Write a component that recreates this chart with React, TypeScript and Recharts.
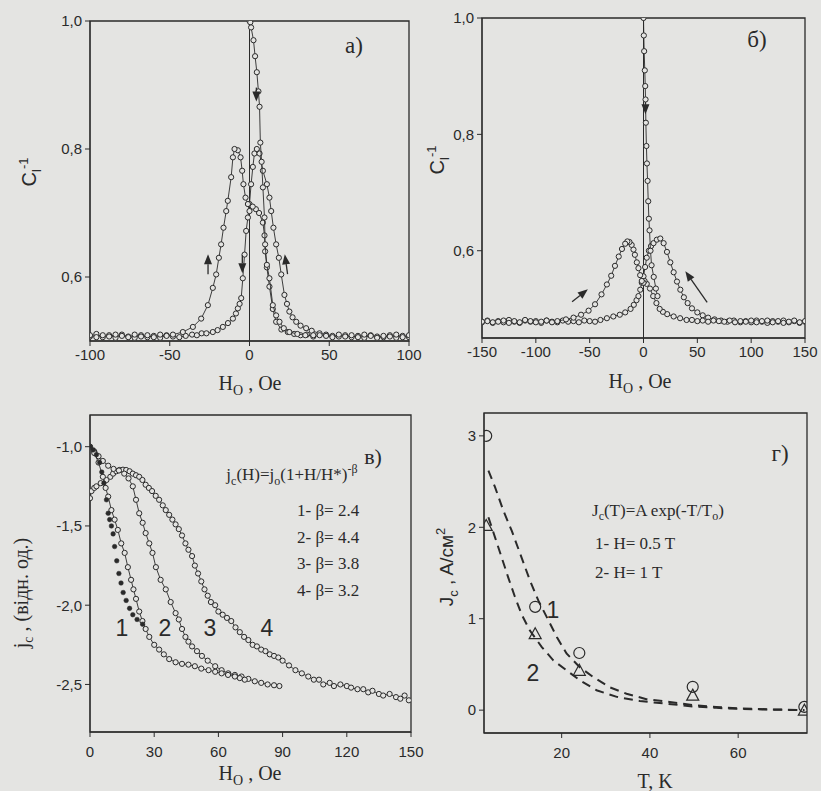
import React from 'react';
import { ComposedChart, Scatter, XAxis, YAxis, ReferenceArea, ReferenceLine, ReferenceDot } from 'recharts';

const ink = '#2a2a2a';
const bg = '#e4e4e2';
const serif = '"Liberation Serif","Times New Roman",serif';
const sans = '"Liberation Sans",Arial,sans-serif';

// ---------- panel а) ----------
const aXTicks = [-100, -50, 0, 50, 100];
const aYTicks = [0.6, 0.8, 1.0];
const aVirgin = [[0,1.0],[0.5,0.998],[1,0.99],[2.5,0.97],[3.5,0.945],[4.6,0.92],[5.6,0.89],[6.3,0.866],[6.8,0.81],[7.6,0.78],[8.4,0.74],[9.4,0.693],[9.8,0.651],[10.9,0.619],[12.5,0.598],[14.6,0.556],[16.7,0.54],[18.8,0.53],[21.5,0.52],[25,0.514],[30,0.511],[35,0.509],[40,0.509]];
const aUp = [[-100,0.507],[-96,0.511],[-92,0.506],[-88,0.509],[-84,0.505],[-80,0.51],[-76,0.507],[-72,0.505],[-68,0.509],[-64,0.506],[-60,0.508],[-56,0.505],[-52,0.509],[-48,0.507],[-44,0.506],[-40,0.508],[-36,0.51],[-33,0.509],[-30,0.512],[-27,0.512],[-23,0.514],[-20,0.517],[-16.7,0.522],[-13.5,0.528],[-10.4,0.535],[-8.5,0.543],[-7.3,0.551],[-6.2,0.558],[-5.2,0.567],[-4.2,0.598],[-3.1,0.635],[-2.1,0.672],[-1,0.693],[0,0.714],[1,0.745],[2.1,0.772],[3.1,0.793],[4.6,0.8],[6.3,0.793],[8.4,0.766],[10.9,0.745],[12.5,0.724],[13.6,0.703],[15,0.677],[16.7,0.651],[18.4,0.63],[19.9,0.604],[21.9,0.572],[23.5,0.558],[25,0.546],[27,0.537],[29.3,0.53],[32,0.524],[35.5,0.52],[39,0.516],[43.9,0.512],[48,0.51],[52,0.508],[56,0.507],[60,0.509],[64,0.506],[68,0.508],[72,0.505],[76,0.509],[80,0.507],[84,0.506],[88,0.509],[92,0.505],[96,0.508],[100,0.506]];
const aDown = [[100,0.509],[96,0.506],[92,0.51],[88,0.507],[84,0.508],[80,0.505],[76,0.508],[72,0.51],[68,0.506],[64,0.509],[60,0.507],[56,0.51],[52,0.506],[48,0.508],[44,0.509],[40,0.507],[36,0.51],[32,0.509],[28,0.511],[24,0.514],[20,0.518],[16.7,0.53],[14.6,0.55],[12.5,0.585],[10.9,0.615],[9.8,0.64],[9.4,0.665],[8.4,0.685],[6,0.7],[4,0.706],[2,0.71],[0,0.703],[-1,0.714],[-2.5,0.724],[-3.8,0.745],[-4.6,0.766],[-5.6,0.787],[-7.3,0.798],[-9.4,0.8],[-10.4,0.787],[-11.5,0.756],[-13.6,0.719],[-14.6,0.703],[-16.3,0.677],[-17.8,0.651],[-19.2,0.63],[-20.9,0.604],[-23,0.583],[-26.1,0.556],[-30.3,0.535],[-35.5,0.522],[-41.8,0.514],[-48,0.51],[-52,0.508],[-56,0.51],[-60,0.506],[-64,0.509],[-68,0.507],[-72,0.51],[-76,0.506],[-80,0.508],[-84,0.51],[-88,0.507],[-92,0.509],[-96,0.506],[-100,0.509]];

// ---------- panel б) ----------
const bXTicks = [-150, -100, -50, 0, 50, 100, 150];
const bYTicks = [0.6, 0.8, 1.0];
const bVirgin = [[0,1.0],[0.3,0.97],[0.6,0.943],[1.2,0.91],[1.6,0.883],[1.9,0.86],[2.2,0.82],[2.7,0.78],[3.2,0.75],[3.8,0.72],[4.4,0.685],[5,0.655],[5.6,0.635],[6.5,0.6],[7.5,0.575],[9.5,0.555],[11.5,0.535],[13,0.522]];
const bUp = [[-150,0.477],[-145,0.48],[-140,0.476],[-135,0.479],[-130,0.477],[-125,0.481],[-120,0.478],[-115,0.476],[-110,0.48],[-105,0.478],[-100,0.479],[-95,0.476],[-90,0.48],[-85,0.478],[-80,0.477],[-75,0.48],[-70,0.478],[-65,0.479],[-60,0.477],[-55,0.48],[-50,0.479],[-45,0.478],[-40,0.481],[-34,0.484],[-28,0.487],[-22,0.49],[-17,0.494],[-12,0.5],[-9,0.507],[-6.5,0.515],[-4.7,0.522],[-3,0.533],[-1.6,0.545],[0,0.556],[1.5,0.572],[3,0.588],[5,0.6],[7,0.608],[9.3,0.613],[12.4,0.619],[15.6,0.621],[18.7,0.613],[21.8,0.598],[24.9,0.58],[28,0.563],[31.1,0.547],[34.2,0.533],[37.5,0.52],[41,0.51],[45,0.501],[50,0.494],[55,0.489],[60,0.485],[66,0.482],[72,0.48],[78,0.478],[84,0.48],[90,0.477],[95,0.479],[100,0.477],[105,0.48],[110,0.478],[115,0.476],[120,0.479],[125,0.478],[130,0.48],[135,0.477],[140,0.479],[145,0.476],[150,0.478]];
const bDown = [[150,0.479],[145,0.477],[140,0.48],[135,0.478],[130,0.476],[125,0.479],[120,0.477],[115,0.48],[110,0.479],[105,0.477],[100,0.48],[95,0.478],[90,0.479],[85,0.477],[80,0.48],[75,0.478],[70,0.479],[65,0.48],[60,0.478],[55,0.48],[50,0.479],[45,0.481],[40,0.481],[34,0.484],[28,0.487],[22,0.491],[18,0.495],[15,0.5],[12,0.51],[9,0.522],[6,0.535],[3,0.543],[1,0.548],[0,0.545],[-1.6,0.548],[-3.1,0.558],[-4.7,0.57],[-6.2,0.58],[-8,0.593],[-9.3,0.602],[-11,0.61],[-13,0.615],[-15,0.616],[-17,0.612],[-20,0.603],[-23,0.59],[-26.5,0.574],[-30,0.557],[-34,0.542],[-39,0.525],[-45,0.508],[-51,0.497],[-58,0.49],[-65,0.485],[-72,0.482],[-80,0.479],[-85,0.477],[-90,0.48],[-95,0.478],[-100,0.477],[-105,0.479],[-110,0.481],[-115,0.477],[-120,0.479],[-125,0.476],[-130,0.48],[-135,0.478],[-140,0.477],[-145,0.479],[-150,0.478]];

// ---------- panel в) ----------
const cXTicks = [0, 30, 60, 90, 120, 150];
const cYTicks = [-2.5, -2.0, -1.5, -1.0];
const cCurve1 = [[0,-1.0],[1.5,-1.02],[3,-1.05],[4.5,-1.1],[5.5,-1.16],[6.5,-1.23],[7.7,-1.335],[8.5,-1.42],[9.2,-1.46],[10,-1.5],[10.8,-1.55],[11.5,-1.63],[12.5,-1.72],[13.5,-1.8],[14.5,-1.86],[15.5,-1.92],[16.9,-1.97],[18.5,-2.02],[20,-2.06],[22,-2.09],[24.6,-2.12]];
const cCurve2 = [[0,-1.0],[2,-1.04],[4,-1.1],[6,-1.19],[7.3,-1.26],[8.5,-1.315],[10,-1.4],[11.5,-1.46],[13,-1.525],[14.6,-1.61],[16.2,-1.67],[17.7,-1.76],[19.2,-1.84],[20.3,-1.9],[21.5,-1.96],[23,-2.04],[24.5,-2.1],[26,-2.15],[27.7,-2.2],[30,-2.25],[32.3,-2.28],[34.5,-2.31],[37,-2.34],[40,-2.36],[43,-2.37],[46,-2.375],[49,-2.385],[52,-2.4],[55.4,-2.41],[58.5,-2.42],[61.5,-2.43],[64.5,-2.44],[67.7,-2.45],[70,-2.46],[72.3,-2.47]];
const cCurve3 = [[0,-1.0],[2,-1.03],[4,-1.06],[6,-1.09],[8.5,-1.12],[11,-1.14],[13.5,-1.15],[16,-1.17],[18,-1.2],[20,-1.25],[21.5,-1.335],[23,-1.42],[24.6,-1.48],[26,-1.545],[27.7,-1.61],[29.2,-1.67],[30.8,-1.76],[33,-1.84],[35.4,-1.9],[37.7,-1.98],[40,-2.05],[41.5,-2.09],[43,-2.15],[44.6,-2.2],[46,-2.23],[47.7,-2.26],[50,-2.29],[52.3,-2.32],[55,-2.35],[58.5,-2.385],[61.5,-2.41],[64.6,-2.43],[67.7,-2.44],[70.8,-2.45],[74,-2.465],[77,-2.48],[80,-2.49],[83,-2.5],[86,-2.505],[88.5,-2.51]];
const cCurve4 = [[0,-1.325],[0.7,-1.28],[2,-1.26],[3,-1.25],[5,-1.23],[7.7,-1.21],[9.5,-1.19],[10.8,-1.17],[12.3,-1.155],[13.8,-1.147],[15.4,-1.145],[16.9,-1.147],[18.5,-1.155],[20,-1.17],[21.5,-1.18],[23,-1.19],[24.5,-1.21],[26,-1.24],[27.5,-1.26],[29,-1.28],[30.7,-1.31],[32.3,-1.335],[34,-1.37],[35.4,-1.4],[37,-1.43],[38.5,-1.46],[40,-1.49],[41.5,-1.52],[43,-1.56],[44.6,-1.61],[46,-1.65],[47.7,-1.69],[49,-1.75],[50.5,-1.8],[52,-1.85],[53.5,-1.9],[55,-1.94],[56.5,-1.98],[58.5,-2.0],[60,-2.04],[62,-2.06],[64,-2.08],[66,-2.1],[68,-2.14],[70,-2.17],[72,-2.2],[74,-2.22],[76,-2.25],[78,-2.26],[80,-2.28],[82,-2.29],[84,-2.31],[86,-2.32],[88,-2.33],[90,-2.35],[93,-2.38],[96,-2.41],[99,-2.43],[102,-2.45],[104.6,-2.47],[107,-2.47],[109,-2.5],[112,-2.49],[114,-2.51],[117,-2.5],[120,-2.51],[122,-2.52],[125,-2.53],[127.7,-2.53],[130,-2.55],[132,-2.54],[135,-2.56],[137,-2.57],[140,-2.56],[143,-2.58],[145,-2.59],[147,-2.57],[149,-2.6]];

// ---------- panel г) ----------
const dXTicks = [20, 40, 60];
const dYTicks = [0, 1, 2, 3];
const dPoints1 = [[2.9,3.0],[14,1.13],[24,0.625],[49.7,0.255],[75,0.036]];
const dPoints2 = [[2.9,2.02],[14,0.836],[24,0.436],[49.7,0.164],[75,0.0]];
const dFit1 = [[3.4,2.62],[4.9,2.44],[6.8,2.18],[8.7,1.96],[10.6,1.71],[12.8,1.42],[14.7,1.2],[16.6,1.02],[18.9,0.8],[21.1,0.62],[24.1,0.47],[27.2,0.36],[30.9,0.25],[34.7,0.18],[39.2,0.12],[44.5,0.09],[49.8,0.055],[55,0.035],[61,0.018],[68,0.008],[75,0.0]];
const dFit2 = [[3.4,2.11],[4.9,1.89],[6.4,1.67],[7.9,1.45],[9.4,1.24],[10.9,1.05],[12.8,0.87],[15.5,0.69],[18.1,0.545],[21.1,0.436],[24.1,0.327],[27.9,0.218],[32.5,0.145],[37.7,0.1],[43.8,0.07],[49.8,0.04],[55,0.025],[61,0.012],[68,0.005],[75,0.0]];

const pts = (a: number[][]) => a.map(([x, y]) => ({ x, y }));
const comma = (v: number) => v.toFixed(1).replace('.', ',');

const OpenCircle = (p: any) => (p.cx == null ? <g /> : <circle cx={p.cx} cy={p.cy} r={2.6} fill={bg} stroke={ink} strokeWidth={1} />);
const BigCircle = (p: any) => (p.cx == null ? <g /> : <circle cx={p.cx} cy={p.cy} r={5.5} fill="none" stroke={ink} strokeWidth={1.2} />);
const FilledDot = (p: any) => (p.cx == null ? <g /> : <circle cx={p.cx} cy={p.cy} r={2.3} fill={ink} stroke={ink} strokeWidth={0.5} />);
const BigTriangle = (p: any) => (p.cx == null ? <g /> : <path d={`M${p.cx},${p.cy - 6} L${p.cx + 6},${p.cy + 5} L${p.cx - 6},${p.cy + 5} Z`} fill="none" stroke={ink} strokeWidth={1.2} />);
const NoMark = () => <g />;

const makeArrow = (angle: number, len: number) => (p: any) => {
  if (p.cx == null) return <g />;
  const a = (angle * Math.PI) / 180;
  const dx = Math.cos(a), dy = Math.sin(a);
  const tx = p.cx + (dx * len) / 2, ty = p.cy + (dy * len) / 2;
  const sx = p.cx - (dx * len) / 2, sy = p.cy - (dy * len) / 2;
  const hx = tx - dx * 10, hy = ty - dy * 10;
  const nx = -dy * 4, ny = dx * 4;
  return (
    <g>
      <line x1={sx} y1={sy} x2={hx} y2={hy} stroke={ink} strokeWidth={1.3} />
      <path d={`M${tx},${ty} L${hx + nx},${hy + ny} L${hx - nx},${hy - ny} Z`} fill={ink} />
    </g>
  );
};

const tickStyle = { fill: ink, fontSize: 15, fontFamily: sans };

type Series = { data: number[][]; shape: any; line?: any };

function chart(o: {
  w: number; h: number; xd: [number, number]; yd: [number, number]; xt: number[]; yt: number[];
  fy?: (v: number) => string; tm: number; series: Series[]; zeroLine?: boolean; arrows?: [number, number, number, number][];
}) {
  return (
    <ComposedChart width={o.w} height={o.h} margin={{ top: 12, right: 20, bottom: 0, left: 0 }}>
      <XAxis type="number" dataKey="x" domain={o.xd} ticks={o.xt} interval={0} allowDataOverflow
        tick={tickStyle} tickLine={{ stroke: ink }} axisLine={{ stroke: ink }} tickSize={5} tickMargin={o.tm} height={40} />
      <YAxis type="number" dataKey="y" domain={o.yd} ticks={o.yt} interval={0} allowDataOverflow
        tick={tickStyle} tickLine={{ stroke: ink }} axisLine={{ stroke: ink }} tickSize={5} tickMargin={3} width={60}
        tickFormatter={o.fy} />
      <ReferenceArea x1={o.xd[0]} x2={o.xd[1]} y1={o.yd[0]} y2={o.yd[1]} fill="none" stroke={ink} strokeWidth={1.3} />
      {o.zeroLine ? <ReferenceLine x={0} stroke={ink} strokeWidth={1} /> : null}
      {o.series.map((s, i) => (
        <Scatter key={i} data={pts(s.data)} shape={s.shape} line={s.line || false} lineType="joint" isAnimationActive={false} />
      ))}
      {(o.arrows || []).map((a, i) => (
        <ReferenceDot key={'ar' + i} x={a[0]} y={a[1]} r={1} shape={makeArrow(a[2], a[3])} />
      ))}
    </ComposedChart>
  );
}

const thin = { stroke: ink, strokeWidth: 0.9 };
const dashed = { stroke: ink, strokeWidth: 2, strokeDasharray: '9 6' };

const Txt = (p: { x: number; y: number; rot?: boolean; left?: boolean; style?: any; children: any }) => (
  <div style={{
    position: 'absolute', left: p.x, top: p.y, whiteSpace: 'nowrap', color: ink, lineHeight: 1,
    transform: p.left ? 'translate(0,-50%)' : `translate(-50%,-50%)${p.rot ? ' rotate(-90deg)' : ''}`,
    ...p.style,
  }}>{p.children}</div>
);

const serifS = { fontFamily: serif, fontSize: 20 };
const legS = { fontFamily: serif, fontSize: 17 };
const numS = { fontFamily: sans, fontSize: 23 };

export default function App() {
  return (
    <div style={{ position: 'absolute', left: 0, top: 0, width: 821, height: 791, background: bg, overflow: 'hidden' }}>
      <div style={{ position: 'absolute', left: 30, top: 9 }}>
        {chart({ w: 399, h: 372, xd: [-100, 100], yd: [0.5, 1.0], xt: aXTicks, yt: aYTicks, fy: comma, tm: 3, zeroLine: true,
          series: [{ data: aUp, shape: OpenCircle, line: thin }, { data: aDown, shape: OpenCircle, line: thin }, { data: aVirgin, shape: OpenCircle, line: thin }],
          arrows: [[-26, 0.62, -90, 20], [-4.5, 0.62, 90, 18], [23, 0.62, -98, 20], [4.3, 0.885, 90, 14]] })}
      </div>
      <div style={{ position: 'absolute', left: 422, top: 6 }}>
        {chart({ w: 403, h: 372, xd: [-150, 150], yd: [0.45, 1.0], xt: bXTicks, yt: bYTicks, fy: comma, tm: 3, zeroLine: true,
          series: [{ data: bUp, shape: OpenCircle, line: thin }, { data: bDown, shape: OpenCircle, line: thin }, { data: bVirgin, shape: OpenCircle, line: thin }],
          arrows: [[-59, 0.523, -38, 20], [49, 0.538, -125, 38], [1.8, 0.845, 90, 12]] })}
      </div>
      <div style={{ position: 'absolute', left: 30, top: 403 }}>
        {chart({ w: 401, h: 369, xd: [0, 150], yd: [-2.8, -0.8], xt: cXTicks, yt: cYTicks, fy: comma, tm: 9,
          series: [{ data: cCurve4, shape: OpenCircle, line: thin }, { data: cCurve3, shape: OpenCircle, line: thin }, { data: cCurve2, shape: OpenCircle, line: thin }, { data: cCurve1, shape: FilledDot }] })}
      </div>
      <div style={{ position: 'absolute', left: 424, top: 401 }}>
        {chart({ w: 403, h: 372, xd: [2.4, 75.6], yd: [-0.25, 3.25], xt: dXTicks, yt: dYTicks, tm: 9,
          series: [{ data: dFit1, shape: NoMark, line: dashed }, { data: dFit2, shape: NoMark, line: dashed }, { data: dPoints1, shape: BigCircle }, { data: dPoints2, shape: BigTriangle }] })}
      </div>

      {/* panel letters */}
      <Txt x={354} y={45} style={{ fontFamily: serif, fontSize: 23 }}>а)</Txt>
      <Txt x={757} y={39} style={{ fontFamily: serif, fontSize: 23 }}>б)</Txt>
      <Txt x={373} y={457} style={{ fontFamily: serif, fontSize: 22 }}>в)</Txt>
      <Txt x={780} y={453} style={{ fontFamily: serif, fontSize: 23 }}>г)</Txt>

      {/* axis titles */}
      <Txt x={250} y={385} style={serifS}>H<sub style={{ fontSize: 14 }}>O</sub> , Oe</Txt>
      <Txt x={640} y={383} style={serifS}>H<sub style={{ fontSize: 14 }}>O</sub> , Oe</Txt>
      <Txt x={250} y={775} style={serifS}>H<sub style={{ fontSize: 14 }}>O</sub> , Oe</Txt>
      <Txt x={655} y={781} style={serifS}>T, K</Txt>
      <Txt x={30} y={172} rot style={{ fontFamily: sans, fontSize: 20 }}>C<sub style={{ fontSize: 13 }}>l</sub><sup style={{ fontSize: 13 }}>-1</sup></Txt>
      <Txt x={438} y={160} rot style={{ fontFamily: sans, fontSize: 20 }}>C<sub style={{ fontSize: 13 }}>l</sub><sup style={{ fontSize: 13 }}>-1</sup></Txt>
      <Txt x={23} y={593} rot style={serifS}>j<sub style={{ fontSize: 14 }}>c</sub> , (відн. од.)</Txt>
      <Txt x={447} y={567} rot style={{ fontFamily: sans, fontSize: 19 }}>J<sub style={{ fontSize: 13 }}>c</sub> , A/см<sup style={{ fontSize: 13 }}>2</sup></Txt>

      {/* panel в legend */}
      <Txt x={292} y={475} style={legS}>j<sub style={{ fontSize: 12 }}>c</sub>(H)=j<sub style={{ fontSize: 12 }}>o</sub>(1+H/H*)<sup style={{ fontSize: 12 }}>-β</sup></Txt>
      <Txt x={297} y={510} left style={legS}>1- β= 2.4</Txt>
      <Txt x={297} y={537} left style={legS}>2- β= 4.4</Txt>
      <Txt x={297} y={563} left style={legS}>3- β= 3.8</Txt>
      <Txt x={297} y={590} left style={legS}>4- β= 3.2</Txt>
      <Txt x={122} y={628} style={numS}>1</Txt>
      <Txt x={165} y={628} style={numS}>2</Txt>
      <Txt x={210} y={628} style={numS}>3</Txt>
      <Txt x={267} y={628} style={numS}>4</Txt>

      {/* panel г legend */}
      <Txt x={592} y={512} left style={legS}>J<sub style={{ fontSize: 12 }}>c</sub>(T)=A exp(-T/T<sub style={{ fontSize: 12 }}>o</sub>)</Txt>
      <Txt x={595} y={543} left style={legS}>1- H= 0.5 T</Txt>
      <Txt x={595} y={572} left style={legS}>2- H= 1 T</Txt>
      <Txt x={553} y={610} style={numS}>1</Txt>
      <Txt x={533} y={673} style={numS}>2</Txt>
    </div>
  );
}
